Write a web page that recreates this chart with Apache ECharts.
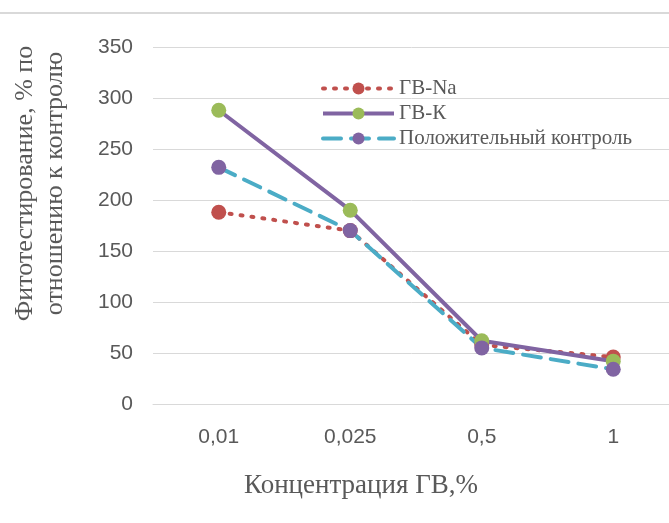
<!DOCTYPE html>
<html><head><meta charset="utf-8">
<script src="https://cdn.jsdelivr.net/npm/echarts@6/dist/echarts.min.js"></script>
<style>html,body{margin:0;padding:0;background:#fff}#c{width:669px;height:523px}</style>
</head><body><div id="c"></div>
<script>
const categories = ['0,01', '0,025', '0,5', '1'];
const gvNa = [188, 170, 58, 46];
const gvK = [288, 190, 62, 42];
const control = [232, 170, 55, 34];
const seriesNames = ['ГВ-Na', 'ГВ-К', 'Положительный контроль'];
const yTitle = 'Фитотестирование, % по\nотношению к контролю';
const xTitle = 'Концентрация ГВ,%';

const chart = echarts.init(document.getElementById('c'));
chart.setOption({
  animation: false,
  grid: {left: 153, right: -10, top: 47, bottom: 119, containLabel: false, outerBoundsMode: 'none'},
  graphic: [{type: 'line', shape: {x1: 0, y1: 13, x2: 669, y2: 13}, style: {stroke: '#d9d9d9', lineWidth: 2}}],
  legend: {
    left: 316, top: 73, orient: 'vertical', itemWidth: 71, itemHeight: 15, itemGap: 4,
    lineStyle: {width: 4},
    textStyle: {fontFamily: 'Liberation Serif', fontSize: 21, color: '#595959'},
    data: seriesNames
  },
  xAxis: {
    type: 'category', data: categories, boundaryGap: true,
    axisLine: {lineStyle: {color: '#d9d9d9', width: 1}}, axisTick: {show: false},
    axisLabel: {color: '#595959', fontSize: 21, fontFamily: 'Liberation Sans', margin: 23},
    name: xTitle, nameLocation: 'middle', nameGap: 68,
    nameTextStyle: {fontFamily: 'Liberation Serif', fontSize: 27, color: '#595959', padding: [0, 0, 0, -110]}
  },
  yAxis: {
    type: 'value', min: 0, max: 350, interval: 50,
    splitLine: {lineStyle: {color: '#d9d9d9', width: 1}},
    axisLine: {show: false}, axisTick: {show: false},
    axisLabel: {color: '#595959', fontSize: 21, fontFamily: 'Liberation Sans', margin: 20},
    name: yTitle, nameLocation: 'middle', nameGap: 83, nameRotate: 90,
    nameTextStyle: {fontFamily: 'Liberation Serif', fontSize: 26, color: '#595959', lineHeight: 30, padding: [0, 0, 0, 84]}
  },
  series: [
    {name: seriesNames[0], type: 'line', data: gvNa, symbol: 'circle', symbolSize: 15,
     itemStyle: {color: '#c0504d'}, lineStyle: {color: '#c0504d', width: 4, type: [2, 9], cap: 'round'}},
    {name: seriesNames[1], type: 'line', data: gvK, symbol: 'circle', symbolSize: 15,
     itemStyle: {color: '#9bbb59'}, lineStyle: {color: '#8064a2', width: 4}},
    {name: seriesNames[2], type: 'line', data: control, symbol: 'circle', symbolSize: 15,
     itemStyle: {color: '#8064a2'}, lineStyle: {color: '#4bacc6', width: 4, type: [18, 10], cap: 'round'}}
  ]
});
</script></body></html>
